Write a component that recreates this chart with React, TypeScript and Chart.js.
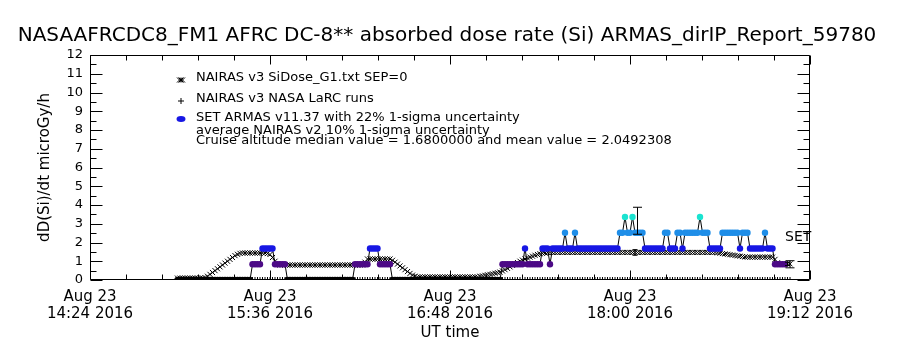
import React, { useEffect, useRef } from "react";
import { Chart, registerables } from "chart.js";

Chart.register(...registerables);

const FONT = "'DejaVu Sans', 'Liberation Sans', sans-serif";

const TITLE = "NASAAFRCDC8_FM1 AFRC DC-8** absorbed dose rate (Si) ARMAS_dirIP_Report_59780";
const Y_TITLE = "dD(Si)/dt microGy/h";
const X_TITLE = "UT time";
const LEGEND_LINES = [
  "NAIRAS v3 SiDose_G1.txt SEP=0",
  "NAIRAS v3 NASA LaRC runs",
  "SET ARMAS v11.37 with 22% 1-sigma uncertainty",
  "average NAIRAS v2 10% 1-sigma uncertainty",
  "Cruise altitude median value = 1.6800000 and mean value = 2.0492308",
];
const SET_LABEL = "SET";

// x axis: minutes after Aug 23 2016 14:24 UT
const X_MIN = 0;
const X_MAX = 288;
const X_TICK_VALUES = [0, 72, 144, 216, 288];
const X_TICK_LABELS = [
  ["Aug 23", "14:24 2016"],
  ["Aug 23", "15:36 2016"],
  ["Aug 23", "16:48 2016"],
  ["Aug 23", "18:00 2016"],
  ["Aug 23", "19:12 2016"],
];
const X_MINOR_STEP = 14.4;
const Y_MIN = 0;
const Y_MAX = 12;
const Y_MINOR_STEP = 0.5;

// NAIRAS v3 SiDose_G1 (one value per minute, starting at minute 35)
const NAIRAS_START = 35;
const nairasG1 = [
  0.1, 0.1, 0.1, 0.1, 0.1, 0.1, 0.1, 0.1, 0.1, 0.1, 0.1,
  0.13, 0.2, 0.3, 0.4, 0.5, 0.6, 0.7, 0.8, 0.9, 1.0, 1.1, 1.2, 1.3, 1.37, 1.42,
  1.44, 1.44, 1.44, 1.44, 1.44, 1.44, 1.44, 1.44, 1.44, 1.44,
  1.41, 1.36, 1.2, 1.0, 0.86,
  0.8, 0.8, 0.8, 0.8, 0.8, 0.8, 0.8, 0.8, 0.8, 0.8,
  0.8, 0.8, 0.8, 0.8, 0.8, 0.8, 0.8, 0.8, 0.8, 0.8,
  0.8, 0.8, 0.8, 0.8, 0.8, 0.8, 0.8, 0.8, 0.8, 0.8,
  0.8, 0.8, 0.8, 0.8,
  0.95,
  1.12, 1.12, 1.12, 1.12, 1.12, 1.12, 1.12, 1.12, 1.12, 1.12,
  1.05, 0.95, 0.85, 0.75, 0.65, 0.55, 0.45, 0.35, 0.26, 0.2,
  0.16, 0.16, 0.16, 0.16, 0.16, 0.16, 0.16, 0.16, 0.16, 0.16,
  0.16, 0.16, 0.16, 0.16, 0.16, 0.16, 0.16, 0.16, 0.16, 0.16,
  0.16, 0.16, 0.16, 0.16, 0.16,
  0.2, 0.22, 0.25, 0.28, 0.3, 0.33, 0.36, 0.39, 0.42, 0.48,
  0.55, 0.62, 0.7, 0.78, 0.85, 0.93, 1.0, 1.06, 1.12, 1.17,
  1.22, 1.27, 1.32, 1.36, 1.4, 1.42, 1.44, 1.46,
  1.47, 1.47, 1.47, 1.47, 1.47, 1.47, 1.47, 1.47, 1.47, 1.47,
  1.47, 1.47, 1.47, 1.47, 1.47, 1.47, 1.47, 1.47, 1.47, 1.47,
  1.47, 1.47, 1.47, 1.47, 1.47, 1.47, 1.47, 1.47, 1.47, 1.47,
  1.47, 1.47, 1.47, 1.47, 1.47, 1.47, 1.47, 1.47, 1.47, 1.47,
  1.47, 1.47, 1.47, 1.47, 1.47, 1.47, 1.47, 1.47, 1.47, 1.47,
  1.47, 1.47, 1.47, 1.47, 1.47, 1.47, 1.47, 1.47, 1.47, 1.47,
  1.47, 1.47, 1.47, 1.47, 1.47, 1.47, 1.47,
  1.45, 1.43, 1.41, 1.39, 1.37, 1.35, 1.33, 1.31, 1.29, 1.27, 1.25, 1.23,
  1.22, 1.22, 1.22, 1.22, 1.22, 1.22, 1.22, 1.22, 1.22, 1.22, 1.22,
  1.1, 0.92,
  0.86, 0.86, 0.86, 0.86, 0.86,
];

// NAIRAS v3 NASA LaRC runs (one value per minute, starting at minute 35)
const LARC_START = 35;
const larc = [
  0, 0, 0, 0, 0, 0, 0, 0, 0, 0, 0, 0, 0, 0, 0, 0, 0, 0, 0, 0,
  0, 0, 0, 0, 0, 0, 0, 0, 0, 0, 0, 0, 0, 0, 0, 0, 0, 0, 0, 0,
  0, 0, 0, 0, 0, 0, 0, 0, 0, 0, 0, 0, 0, 0, 0, 0, 0, 0, 0, 0,
  0, 0, 0, 0, 0, 0, 0, 0, 0, 0, 0, 0, 0, 0, 0, 0, 0, 0, 0, 0,
  0, 0, 0, 0, 0, 0, 0, 0, 0, 0, 0, 0, 0, 0, 0, 0, 0, 0, 0, 0,
  0, 0, 0, 0, 0, 0, 0, 0, 0, 0, 0, 0, 0, 0, 0, 0, 0, 0, 0, 0,
  0, 0, 0, 0, 0, 0, 0, 0, 0, 0, 0, 0, 0, 0, 0, 0, 0, 0, 0, 0,
  0, 0, 0, 0, 0, 0, 0, 0, 0, 0, 0, 0, 0, 0, 0, 0, 0, 0, 0, 0,
  0, 0, 0, 0, 0, 0, 0, 0, 0, 0, 0, 0, 0, 0, 0, 0, 0, 0, 0, 0,
  0, 0, 0, 0, 0, 0, 0, 0, 0, 0, 0, 0, 0, 0, 0, 0, 0, 0, 0, 0,
  0, 0, 0, 0, 0, 0, 0, 0, 0, 0, 0, 0, 0, 0, 0, 0, 0, 0, 0, 0,
  0, 0, 0, 0, 0, 0, 0, 0, 0, 0, 0, 0, 0, 0, 0, 0, 0, 0, 0, 0,
  0, 0, 0, 0, 0, 0,
];

// SET ARMAS v11.37 (one value per minute, starting at minute 35)
const ARMAS_START = 35;
const armas = [
  0, 0, 0, 0, 0, 0, 0, 0, 0, 0,
  0, 0, 0, 0, 0, 0, 0, 0, 0, 0,
  0, 0, 0, 0, 0, 0, 0, 0, 0, 0,
  0.84, 0.84, 0.84, 0.84,
  1.68, 1.68, 1.68, 1.68, 1.68,
  0.84, 0.84, 0.84, 0.84, 0.84,
  0, 0, 0, 0, 0, 0, 0, 0, 0, 0,
  0, 0, 0, 0, 0, 0, 0, 0, 0, 0,
  0, 0, 0, 0, 0, 0, 0,
  0.84, 0.84, 0.84, 0.84, 0.84, 0.84,
  1.68, 1.68, 1.68, 1.68,
  0.84, 0.84, 0.84, 0.84, 0.84,
  0, 0, 0, 0, 0, 0, 0, 0, 0, 0,
  0, 0, 0, 0, 0, 0, 0, 0, 0, 0,
  0, 0, 0, 0, 0, 0, 0, 0, 0, 0,
  0, 0, 0, 0, 0, 0, 0, 0, 0, 0,
  0, 0, 0, 0,
  0.84, 0.84, 0.84, 0.84, 0.84, 0.84, 0.84, 0.84, 0.84,
  1.68,
  0.84, 0.84, 0.84, 0.84, 0.84, 0.84,
  1.68, 1.68, 1.68,
  0.84,
  1.68, 1.68, 1.68, 1.68, 1.68,
  2.52,
  1.68, 1.68, 1.68,
  2.52,
  1.68, 1.68, 1.68, 1.68, 1.68, 1.68, 1.68, 1.68, 1.68, 1.68,
  1.68, 1.68, 1.68, 1.68, 1.68, 1.68, 1.68,
  2.52, 2.52,
  3.36,
  2.52, 2.52,
  3.36,
  2.52, 2.52, 2.52, 2.52,
  1.68, 1.68, 1.68, 1.68, 1.68, 1.68, 1.68, 1.68,
  2.52, 2.52,
  1.68, 1.68, 1.68,
  2.52, 2.52,
  1.68,
  2.52, 2.52, 2.52, 2.52, 2.52, 2.52,
  3.36,
  2.52, 2.52, 2.52,
  1.68, 1.68, 1.68, 1.68, 1.68,
  2.52, 2.52, 2.52, 2.52, 2.52, 2.52, 2.52,
  1.68,
  2.52, 2.52, 2.52,
  1.68, 1.68, 1.68, 1.68, 1.68, 1.68,
  2.52,
  1.68, 1.68, 1.68,
  0.84, 0.84, 0.84, 0.84, 0.84,
];

// uncertainty bars
const errTime = [218, 219, 279, 280];
const errCenter = [1.47, 3.16, 0.86, 0.84];
const errHalf = [0.15, 0.72, 0.09, 0.19];
const errSource = ["nairas", "armas", "nairas", "armas"];

// position of the "SET" marker label (minute, value)
const SET_AT = { t: 278, v: 2.25 };

const PURPLE = "#4c0a86";
const BLUE = "#1717e4";
const LIGHTBLUE = "#1f8ee8";
const CYAN = "#1ae3d0";

function armasColor(v: number): string {
  if (v <= 0.01) return "#000000";
  if (v < 1.2) return PURPLE;
  if (v < 2.1) return BLUE;
  if (v < 2.9) return LIGHTBLUE;
  return CYAN;
}

function toPoints(start: number, values: number[]) {
  return values.map((v, i) => ({ x: start + i, y: v }));
}

const framePlugin = {
  id: "idlFrame",
  beforeDatasetsDraw(chart: any) {
    const { ctx, chartArea, scales } = chart;
    const { left, right, top, bottom } = chartArea;
    const xs = scales.x;
    const ys = scales.y;
    ctx.save();
    ctx.strokeStyle = "#000";
    ctx.lineWidth = 1;
    ctx.beginPath();
    const L = Math.round(left) + 0.5;
    const R = Math.round(right) - 0.5;
    const T = Math.round(top) + 0.5;
    const B = Math.round(bottom) - 0.5;
    ctx.moveTo(L, T);
    ctx.lineTo(R, T);
    ctx.lineTo(R, B);
    ctx.lineTo(L, B);
    ctx.closePath();
    const ny = Math.round((Y_MAX - Y_MIN) / Y_MINOR_STEP);
    for (let k = 0; k <= ny; k++) {
      const v = Y_MIN + k * Y_MINOR_STEP;
      const py = Math.round(ys.getPixelForValue(v)) + 0.5;
      const len = k % 2 === 0 ? 12 : 6;
      ctx.moveTo(L, py);
      ctx.lineTo(L + len, py);
      ctx.moveTo(R, py);
      ctx.lineTo(R - len, py);
    }
    const nx = Math.round((X_MAX - X_MIN) / X_MINOR_STEP);
    for (let k = 0; k <= nx; k++) {
      const v = X_MIN + k * X_MINOR_STEP;
      const px = Math.round(xs.getPixelForValue(v)) + 0.5;
      const len = k % 5 === 0 ? 9 : 5;
      ctx.moveTo(px, B);
      ctx.lineTo(px, B - len);
      ctx.moveTo(px, T);
      ctx.lineTo(px, T + len);
    }
    ctx.stroke();
    ctx.restore();
  },
};

const textPlugin = {
  id: "idlText",
  afterDraw(chart: any) {
    const { ctx, chartArea, scales } = chart;
    ctx.save();
    ctx.fillStyle = "#000";
    ctx.textBaseline = "middle";

    // title
    ctx.font = `20px ${FONT}`;
    ctx.textAlign = "center";
    ctx.fillText(TITLE, 447, 36);

    // axis titles
    ctx.font = `15px ${FONT}`;
    ctx.fillText(X_TITLE, (chartArea.left + chartArea.right) / 2, 333);
    ctx.save();
    ctx.translate(45, (chartArea.top + chartArea.bottom) / 2);
    ctx.rotate(-Math.PI / 2);
    ctx.fillText(Y_TITLE, 0, 0);
    ctx.restore();

    // legend
    const symX = 181;
    const textX = 196;
    const rows = [78, 99, 118, 131, 141];
    ctx.font = `13px ${FONT}`;
    ctx.textAlign = "left";
    LEGEND_LINES.forEach((s, i) => ctx.fillText(s, textX, rows[i]));

    ctx.strokeStyle = "#000";
    ctx.lineWidth = 1;
    // checkered symbol
    ctx.beginPath();
    [-1.5, 0, 1.5].forEach((dx) => {
      const cx = symX + dx;
      const cy = rows[0] + 2;
      ctx.moveTo(cx - 2.5, cy - 2.5);
      ctx.lineTo(cx + 2.5, cy + 2.5);
      ctx.moveTo(cx - 2.5, cy + 2.5);
      ctx.lineTo(cx + 2.5, cy - 2.5);
    });
    ctx.stroke();
    // plus symbol
    ctx.beginPath();
    ctx.moveTo(symX - 3, rows[1] + 2);
    ctx.lineTo(symX + 3, rows[1] + 2);
    ctx.moveTo(symX, rows[1] - 1);
    ctx.lineTo(symX, rows[1] + 5);
    ctx.stroke();
    // ARMAS symbol
    ctx.fillStyle = BLUE;
    ctx.beginPath();
    ctx.ellipse(symX, rows[2] + 1, 4.5, 3, 0, 0, Math.PI * 2);
    ctx.fill();

    // SET marker
    ctx.fillStyle = "#000";
    ctx.font = `14px ${FONT}`;
    ctx.textAlign = "left";
    ctx.fillText(
      SET_LABEL,
      scales.x.getPixelForValue(SET_AT.t),
      scales.y.getPixelForValue(SET_AT.v)
    );
    ctx.restore();
  },
};

export default function App() {
  const ref = useRef<HTMLCanvasElement>(null);

  useEffect(() => {
    const canvas = ref.current;
    if (!canvas) return;

    const errorDatasets = errTime.map((t, i) => ({
      label: `err${i}`,
      data: [
        { x: t, y: errCenter[i] - errHalf[i] },
        { x: t, y: errCenter[i] + errHalf[i] },
      ],
      showLine: true,
      borderColor: "#000",
      borderWidth: 1,
      pointStyle: "line",
      pointRadius: errSource[i] === "armas" ? 4.5 : 2.5,
      pointBorderColor: "#000",
      pointBorderWidth: 1,
      pointBackgroundColor: "#000",
      order: -1,
    }));

    const chart = new Chart(canvas, {
      type: "line",
      data: {
        datasets: [
          {
            label: "SET ARMAS",
            data: toPoints(ARMAS_START, armas),
            showLine: true,
            borderColor: "#000",
            borderWidth: 1,
            tension: 0,
            pointStyle: "circle",
            pointRadius: 3.2,
            pointBorderWidth: 0,
            pointBackgroundColor: (c: any) => armasColor(c.raw ? c.raw.y : 0),
            pointBorderColor: (c: any) => armasColor(c.raw ? c.raw.y : 0),
            order: 0,
          },
          {
            label: "NAIRAS LaRC",
            data: toPoints(LARC_START, larc),
            showLine: false,
            pointStyle: "cross",
            pointRadius: 3,
            pointBorderColor: "#000",
            pointBorderWidth: 1,
            order: 1,
          },
          {
            label: "NAIRAS G1",
            data: toPoints(NAIRAS_START, nairasG1),
            showLine: false,
            pointStyle: "crossRot",
            pointRadius: 3.6,
            pointBorderColor: "#000",
            pointBorderWidth: 1,
            order: 2,
          },
          ...errorDatasets,
        ] as any,
      },
      options: {
        animation: false,
        responsive: false,
        maintainAspectRatio: false,
        devicePixelRatio: 1,
        events: [],
        layout: { padding: { top: 55, right: 90, left: 0, bottom: 0 } },
        plugins: {
          legend: { display: false },
          title: { display: false },
          tooltip: { enabled: false },
        },
        scales: {
          x: {
            type: "linear",
            min: X_MIN,
            max: X_MAX,
            afterFit: (s: any) => {
              s.height = 70;
            },
            afterBuildTicks: (s: any) => {
              s.ticks = X_TICK_VALUES.map((v) => ({ value: v }));
            },
            ticks: {
              autoSkip: false,
              maxRotation: 0,
              minRotation: 0,
              padding: 9,
              color: "#000",
              font: { family: FONT, size: 15, lineHeight: 1.1 },
              callback: (v: any) => {
                const i = X_TICK_VALUES.indexOf(Number(v));
                return i >= 0 ? X_TICK_LABELS[i] : "";
              },
            },
            grid: { display: false, drawTicks: false },
            border: { display: false },
          },
          y: {
            type: "linear",
            min: Y_MIN,
            max: Y_MAX,
            afterFit: (s: any) => {
              s.width = 90;
            },
            ticks: {
              stepSize: 1,
              autoSkip: false,
              padding: 7,
              color: "#000",
              font: { family: FONT, size: 13 },
            },
            grid: { display: false, drawTicks: false },
            border: { display: false },
          },
        },
      } as any,
      plugins: [framePlugin, textPlugin],
    });

    return () => chart.destroy();
  }, []);

  return (
    <div
      style={{
        position: "fixed",
        left: 0,
        top: 0,
        width: 900,
        height: 350,
        background: "#fff",
      }}
    >
      <canvas
        ref={ref}
        width={900}
        height={350}
        style={{ display: "block", width: 900, height: 350 }}
      />
    </div>
  );
}
